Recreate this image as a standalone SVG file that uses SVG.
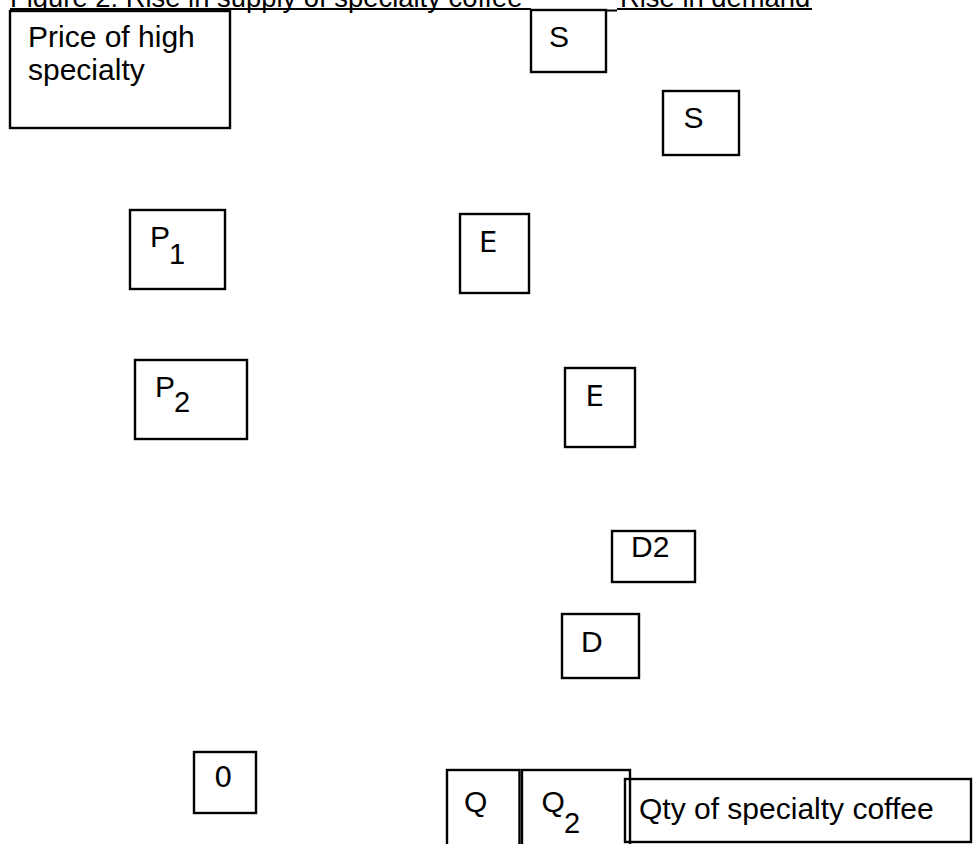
<svg xmlns="http://www.w3.org/2000/svg" width="973" height="844" viewBox="0 0 973 844">
<style>
.box{fill:#fff;stroke:#000;stroke-width:2.4}
.open{fill:none;stroke:#000;stroke-width:2.4}
.t{font-family:"Liberation Sans",Arial,sans-serif;font-size:30px;fill:#000}
.title{font-family:"Liberation Sans",Arial,sans-serif;font-size:27.4px;fill:#000}
.d{font-family:"DejaVu Sans",sans-serif;font-size:29px;fill:#000}
.sub{font-size:29px}
.ul{stroke:#000;stroke-width:2}
</style>
<rect width="973" height="844" fill="#fff"/>
<g id="title">
<text class="title" x="10" y="7">Figure 2: Rise in supply of specialty coffee</text>
<text class="title" x="620" y="7">Rise in demand</text>
<line class="ul" x1="10" y1="9" x2="531" y2="9"/>
<line class="ul" x1="617" y1="9" x2="812" y2="9"/>
</g>
<g id="connectors"></g>
<g id="price-axis">
<rect class="box" x="10" y="11" width="220" height="117"/>
<text class="t" x="28" y="47">Price of high</text>
<text class="t" x="28" y="80">specialty</text>
</g>
<g id="s1">
<rect class="box" x="531" y="10" width="75" height="62"/>
<line class="ul" x1="606" y1="10.5" x2="617" y2="10.5"/>
<text class="t" x="549" y="47">S</text>
</g>
<g id="s2">
<rect class="box" x="663" y="91" width="76" height="64"/>
<text class="t" x="683.5" y="128">S</text>
</g>
<g id="p1">
<rect class="box" x="130" y="210" width="95" height="79"/>
<text class="t" x="150" y="247">P</text>
<text class="t sub" x="169" y="264">1</text>
</g>
<g id="p2">
<rect class="box" x="135" y="360" width="112" height="79"/>
<text class="t" x="155" y="397">P</text>
<text class="t sub" x="174" y="412">2</text>
</g>
<g id="e1">
<rect class="box" x="460" y="214" width="69" height="79"/>
<text class="d" x="479" y="252">E</text>
</g>
<g id="e2">
<rect class="box" x="565" y="368" width="70" height="79"/>
<text class="d" x="585.5" y="406">E</text>
</g>
<g id="d2">
<rect class="box" x="612" y="531" width="83" height="51"/>
<text class="t" x="631" y="557">D2</text>
</g>
<g id="d">
<rect class="box" x="562" y="614" width="77" height="64"/>
<text class="t" x="581" y="652">D</text>
</g>
<g id="origin">
<rect class="box" x="194" y="752" width="62" height="61"/>
<text class="d" x="214" y="787">0</text>
</g>
<g id="q1">
<rect class="box" x="447" y="770" width="72.5" height="90"/>
<text class="t" x="464" y="812">Q</text>
</g>
<g id="q2">
<rect class="box" x="522" y="770" width="108" height="90"/>
<text class="t" x="541.5" y="812">Q</text>
<text class="t sub" x="564" y="833">2</text>
</g>
<g id="qty-axis">
<rect class="open" x="625" y="779" width="346" height="63"/>
<text class="t" x="639" y="819">Qty of specialty coffee</text>
</g>
</svg>
